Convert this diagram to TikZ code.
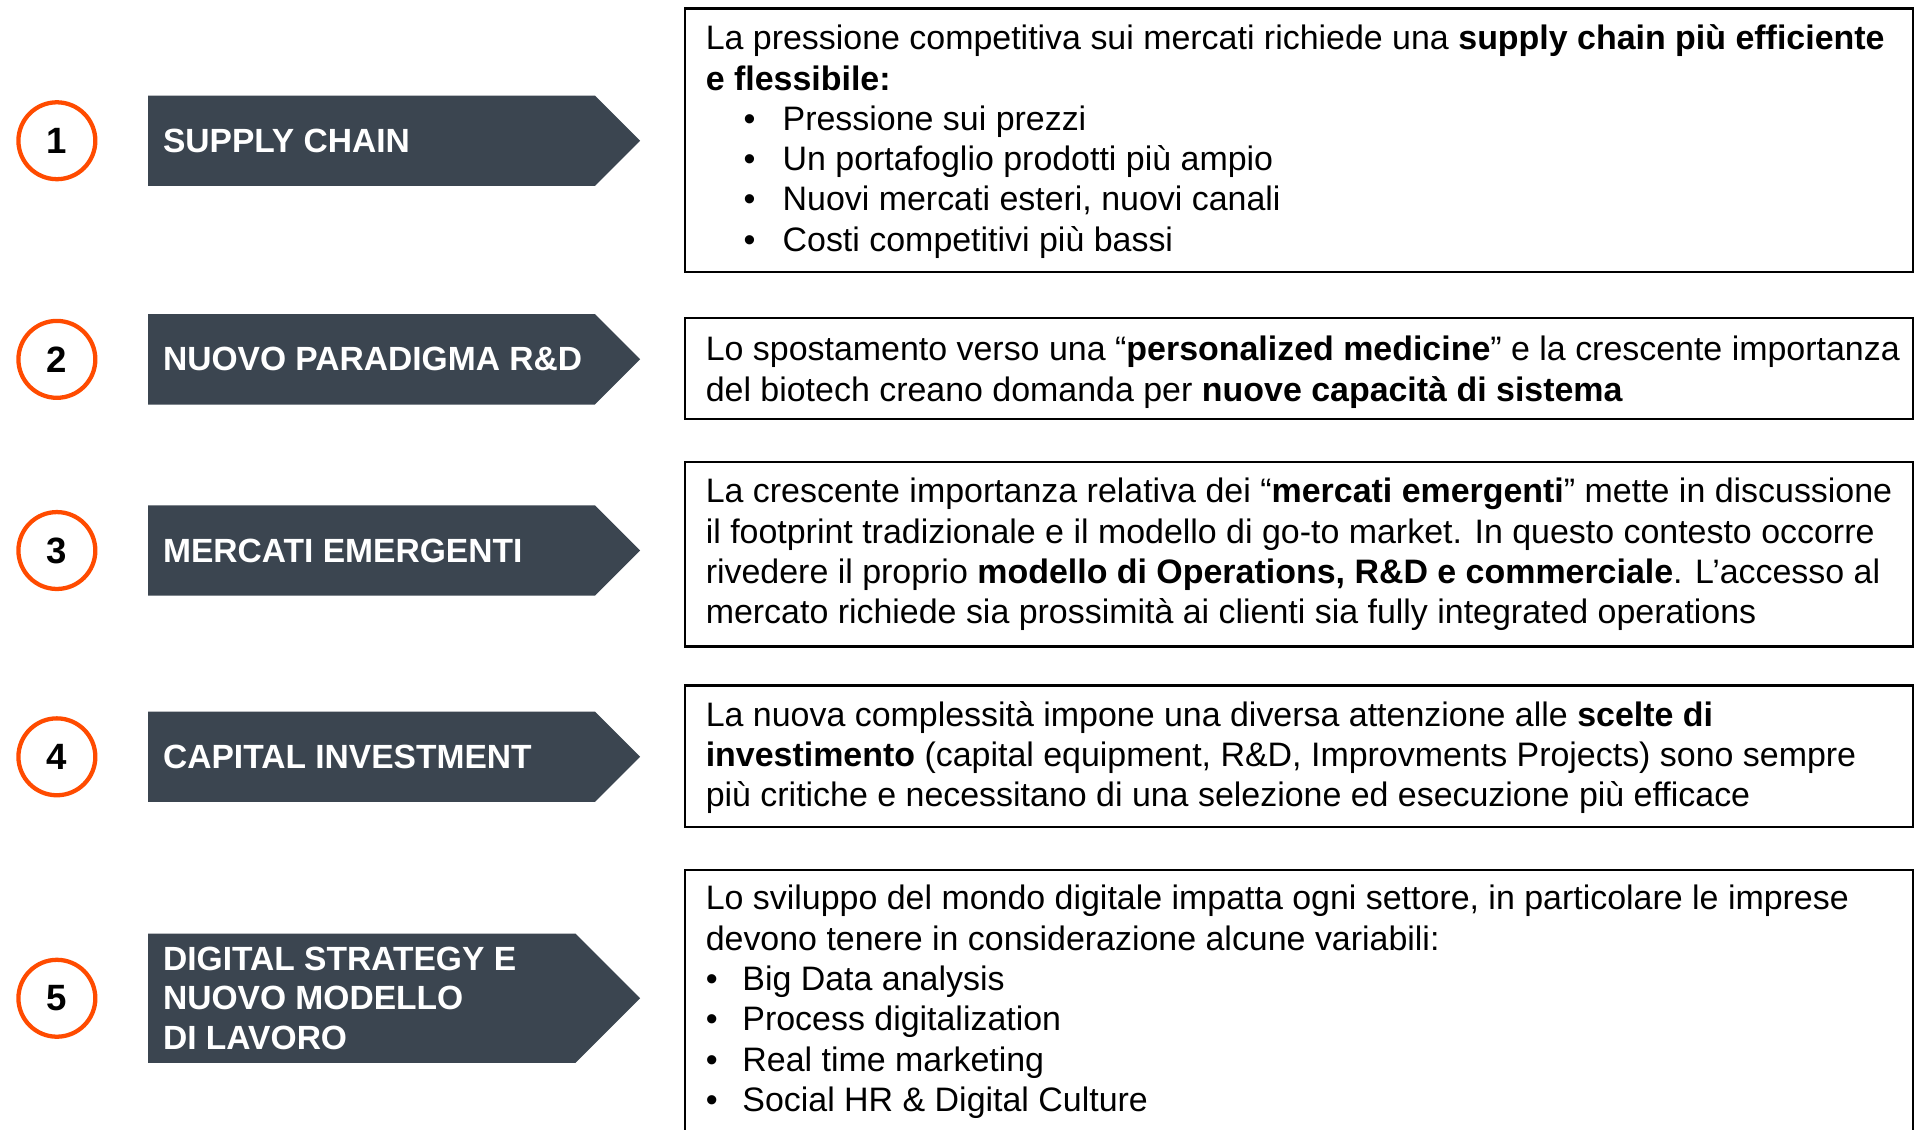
\documentclass[tikz,border=0pt]{standalone}
\usepackage{fontspec}
\setmainfont{Liberation Sans}
\usepackage{tikz}
\usetikzlibrary{positioning, shapes.symbols}

\definecolor{slate}{HTML}{3B4550}
\definecolor{flame}{HTML}{FF4B00}

\tikzset{
  numring/.style={circle, draw=flame, line width=3.5pt, minimum size=63pt, inner sep=0pt,
    font=\fontsize{30}{30}\selectfont\bfseries},
  tag/.style={signal, signal to=east, fill=slate, minimum width=403pt,
    inner sep=0pt, outer sep=0pt, anchor=west},
  tagtext/.style={text=white, align=left, inner sep=0pt, anchor=west,
    font=\fontsize{27.5}{32.5}\selectfont\bfseries},
  frame/.style={draw=black, line width=2pt},
  framebox/.style={frame, rectangle, minimum width=1006pt, inner sep=0pt, outer sep=0pt,
    anchor=north west},
  frametext/.style={align=left, inner sep=0pt, anchor=west,
    font=\fontsize{27.8}{33}\selectfont}
}

\newcommand{\bulin}{\makebox[63pt][l]{\hspace{31pt}\textbullet}}
\newcommand{\bulout}{\makebox[30pt][l]{\textbullet}}

\begin{document}
\begin{tikzpicture}[x=1pt, y=-1pt]
    \useasboundingbox (0,0) rectangle (1568,925.7);

    % Numbers and arrow tags
    \foreach \i/\y/\h/\txt in {1/115.3/74/{SUPPLY CHAIN}, 2/294.4/74/{NUOVO PARADIGMA R\&D},
      3/451/74/{MERCATI EMERGENTI}, 4/620/74/{CAPITAL INVESTMENT},
      5/817.8/106/{DIGITAL STRATEGY E\\NUOVO MODELLO\\DI LAVORO}} {
      \node[numring] (n\i) at (46.6,\y) {\i};
      \node[tag, minimum height=\h pt] (a\i) at (121.4,\y) {};
      \node[tagtext] (l\i) at ([xshift=12pt]a\i.west) {\txt};
    }

    % Description boxes
    \node[framebox, minimum height=216pt] (b1) at (561,7) {};
    \node[framebox, minimum height=82.6pt] (b2) at (561,260.7) {};
    \node[framebox, minimum height=151pt] (b3) at (561,378.7) {};
    \node[framebox, minimum height=115.7pt] (b4) at (561,561.7) {};
    \node[framebox, minimum height=260pt] (b5) at (561,712.7) {};

    \node[frametext] (t1) at ([xshift=17pt,yshift=-1pt]b1.west) {La pressione competitiva sui mercati richiede una \textbf{supply chain più efficiente}\\
      \textbf{e flessibile:}\\
      \bulin Pressione sui prezzi\\
      \bulin Un portafoglio prodotti più ampio\\
      \bulin Nuovi mercati esteri, nuovi canali\\
      \bulin Costi competitivi più bassi};
    \node[frametext] (t2) at ([xshift=17pt,yshift=-3pt]b2.west) {Lo spostamento verso una “\textbf{personalized medicine}” e la crescente importanza\\
      del biotech creano domanda per \textbf{nuove capacità di sistema}};
    \node[frametext] (t3) at ([xshift=17pt]b3.west) {La crescente importanza relativa dei “\textbf{mercati emergenti}” mette in discussione\\
      il footprint tradizionale e il modello di go-to market. In questo contesto occorre\\
      rivedere il proprio \textbf{modello di Operations, R\&D e commerciale}. L’accesso al\\
      mercato richiede sia prossimità ai clienti sia fully integrated operations};
    \node[frametext] (t4) at ([xshift=17pt,yshift=-1pt]b4.west) {La nuova complessità impone una diversa attenzione alle \textbf{scelte di}\\
      \textbf{investimento} (capital equipment, R\&D, Improvments Projects) sono sempre\\
      più critiche e necessitano di una selezione ed esecuzione più efficace};
    \node[frametext] (t5) at ([xshift=17pt,yshift=-108pt]b5.north west) {Lo sviluppo del mondo digitale impatta ogni settore, in particolare le imprese\\
      devono tenere in considerazione alcune variabili:\\
      \bulout Big Data analysis\\
      \bulout Process digitalization\\
      \bulout Real time marketing\\
      \bulout Social HR \& Digital Culture};

\end{tikzpicture}
\end{document}
